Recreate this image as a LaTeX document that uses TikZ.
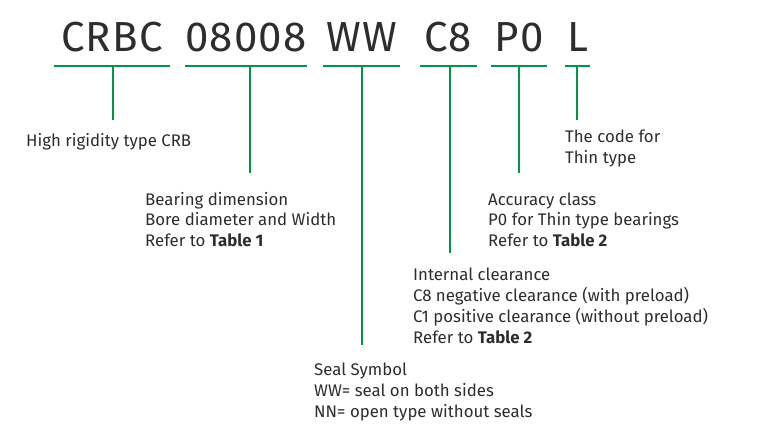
\documentclass[tikz,border=0pt]{standalone}
\usepackage{fontspec}
\setmainfont{Fira Sans}
\usepackage{xcolor}
\usetikzlibrary{positioning}

\definecolor{codegreen}{RGB}{0,150,70}
\definecolor{inkgray}{RGB}{45,45,45}

\begin{document}
\begin{tikzpicture}[x=1pt, y=-1pt,
  code/.style={inner sep=0pt, text height=30pt, text depth=14pt, anchor=south,
    font=\fontsize{42}{42}\selectfont\addfontfeatures{LetterSpace=3}, text=inkgray},
  desc/.style={inner sep=0pt, anchor=base west, align=left, text=inkgray,
    font=\fontsize{16.8}{21}\selectfont},
  tick/.style={draw=codegreen, line width=1.6pt}]
  \useasboundingbox (0,0) rectangle (761,441);
  % code letters, bottom edge = underline
  \node[code, minimum width=115pt] (crbc) at (112,66) {CRBC};
  \node[code, minimum width=110pt] (size) at (246,66) {08008};
  \node[code, minimum width=77pt] (seal) at (361.5,66) {WW};
  \node[code, minimum width=57pt] (clear) at (448.5,66) {C8};
  \node[code, minimum width=56pt] (acc) at (519,66) {P0};
  \node[code, minimum width=25pt] (thin) at (577.5,66) {L};
  % descriptions (base = last line)
  \node[desc] (crbcd) at (26,147) {High rigidity type CRB};
  \node[desc] (sized) at (145,247) {Bearing dimension\\Bore diameter and Width\\Refer to \textbf{Table 1}};
  \node[desc] (thind) at (565,164) {The code for\\Thin type};
  \node[desc] (accd) at (488,247) {Accuracy class\\P0 for Thin type bearings\\Refer to \textbf{Table 2}};
  \node[desc] (cleard) at (413,343) {Internal clearance\\C8 negative clearance (with preload)\\C1 positive clearance (without preload)\\Refer to \textbf{Table 2}};
  \node[desc] (seald) at (314,417) {Seal Symbol\\WW= seal on both sides\\NN= open type without seals};
  % underlines
  \foreach \n in {crbc, size, seal, clear, acc, thin}
    \draw[tick] (\n.south west) -- (\n.south east);
  % leaders
  \coordinate (crbcl) at (113,66);
  \coordinate (sizel) at (250,66);
  \coordinate (seall) at (362,66);
  \coordinate (clearl) at (450,66);
  \coordinate (accl) at (519,66);
  \coordinate (thinl) at (577,66);
  \draw[tick] (crbcl) -- (crbcl |- 0,120);
  \draw[tick] (sizel) -- (sizel |- 0,173);
  \draw[tick] (seall) -- (seall |- 0,345);
  \draw[tick] (clearl) -- (clearl |- 0,253);
  \draw[tick] (accl) -- (accl |- 0,173);
  \draw[tick] (thinl) -- (thinl |- 0,120);
\end{tikzpicture}
\end{document}
